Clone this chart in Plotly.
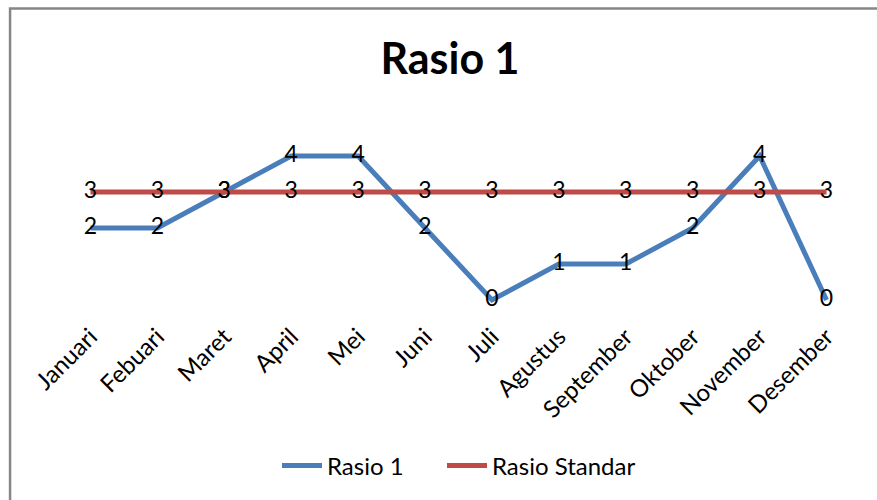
import plotly.graph_objects as go

# Monthly ratio values and the standard reference level
bulan = ["Januari", "Febuari", "Maret", "April", "Mei", "Juni", "Juli",
         "Agustus", "September", "Oktober", "November", "Desember"]
rasio_1 = [2, 2, 3, 4, 4, 2, 0, 1, 1, 2, 4, 0]
rasio_standar = [3, 3, 3, 3, 3, 3, 3, 3, 3, 3, 3, 3]

FONT = "Lato"
W, H = 877, 500
L, R, T, B = 56.5, 16.5, 147, 191

fig = go.Figure()
fig.add_trace(go.Scatter(
    x=bulan, y=rasio_1, name="Rasio 1", mode="lines+text",
    line=dict(color="#4A7EBB", width=5),
    text=[str(v) for v in rasio_1], textposition="middle center",
    textfont=dict(family=FONT, size=23, color="black"),
    cliponaxis=False, legend="legend",
))
fig.add_trace(go.Scatter(
    x=bulan, y=rasio_standar, name="Rasio Standar", mode="lines+text",
    line=dict(color="#BE4B48", width=5),
    text=[str(v) for v in rasio_standar], textposition="middle center",
    textfont=dict(family=FONT, size=23, color="black"),
    cliponaxis=False, legend="legend2",
))

# Chart frame (only the top and left edges fall inside the page)
pw, ph = W - L - R, H - T - B
def px_x(p):
    return (p - L) / pw
def px_y(p):
    return (H - B - p) / ph
fig.add_shape(type="rect", xref="paper", yref="paper",
              x0=px_x(9.5), x1=px_x(W + 20), y0=px_y(H + 20), y1=px_y(8.5),
              line=dict(color="#868686", width=2.5), fillcolor="rgba(0,0,0,0)",
              layer="below")

legend_style = dict(orientation="h", xref="container", xanchor="left",
                    yref="container", yanchor="middle", y=1 - 466 / H,
                    font=dict(family=FONT, size=24, color="black"),
                    itemwidth=40, bgcolor="rgba(0,0,0,0)")

fig.update_layout(
    width=W, height=H,
    margin=dict(l=L, r=R, t=T, b=B),
    paper_bgcolor="white", plot_bgcolor="white",
    title=dict(text="<b>Rasio 1</b>", x=450 / W, xref="container", xanchor="center",
               y=1 - 59 / H, yref="container", yanchor="middle",
               font=dict(family=FONT, size=43, color="black")),
    xaxis=dict(type="category", range=[-0.5, 11.5], showgrid=False, showline=False,
               zeroline=False, ticks="", tickangle=-45, ticklabelstandoff=8,
               tickfont=dict(family=FONT, size=24, color="black")),
    yaxis=dict(range=[-0.25, 4.25], visible=False),
    showlegend=True,
    legend=dict(x=277 / W, **legend_style),
    legend2=dict(x=442 / W, **legend_style),
    font=dict(family=FONT),
)

fig.write_html("out.html")
